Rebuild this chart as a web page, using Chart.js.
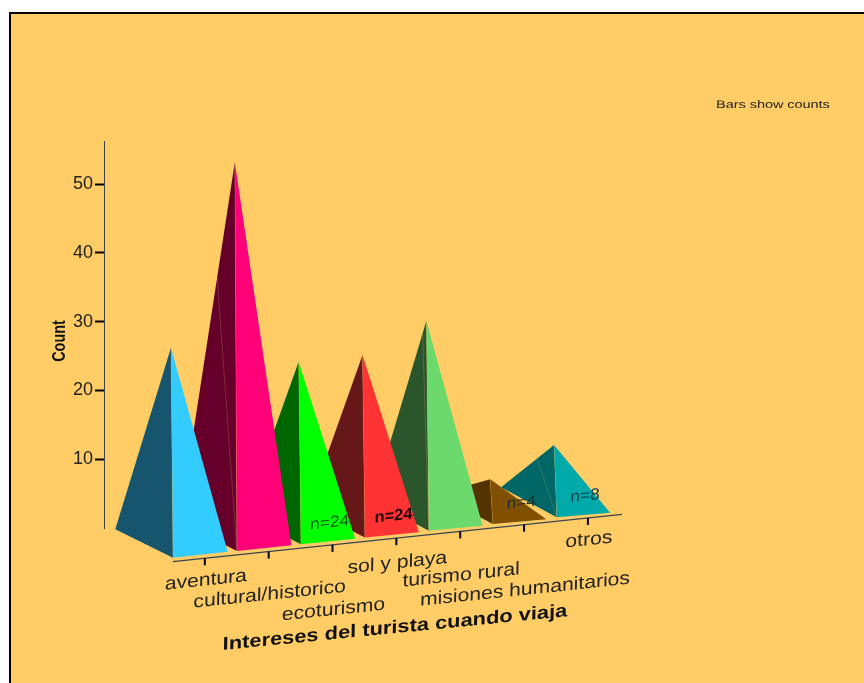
<!DOCTYPE html>
<html>
<head>
<meta charset="utf-8">
<title>Intereses del turista</title>
<script src="https://cdn.jsdelivr.net/npm/chart.js@4"></script>
<style>
  html, body { margin: 0; padding: 0; background: #fff; overflow: hidden; }
  canvas { display: block; }
</style>
</head>
<body>
<canvas id="chart" width="864" height="683"></canvas>
<script>
const categories = ['aventura', 'cultural/historico', 'ecoturismo', 'sol y playa', 'turismo rural', 'misiones humanitarios', 'otros'];
const counts = [28, 54, 24, 24, 28, 4, 8];
const countLabels = ['', '', 'n=24', 'n=24', '', 'n=4', 'n=8'];
const yTicks = [10, 20, 30, 40, 50];
const darkFaces = ['#17556f', '#66002b', '#006600', '#661717', '#2b552b', '#553300', '#006666'];
const lightFaces = ['#33ccff', '#ff0078', '#00ff00', '#ff3333', '#6cd96c', '#805000', '#00aaaa'];
const labelColors = ['#000', '#000', '#0b5a0b', '#200404', '#000', '#20302a', '#06404a'];
const foldLines = [0, 0.32, 0, 0, 0.07, 0, 0.32];

const INK = '#222222';
const SLANT = 6.73; // px the floor climbs per category
const labelDrop = [22, 43, 65, 25, 44, 65, 22]; // staggered rows under the floor axis

function textAt(ctx, str, x, y, font, color, sx, shear) {
    ctx.save();
    ctx.translate(x, y);
    ctx.transform(sx, shear * sx, -0.02, 1, 0, 0);
    ctx.font = font;
    ctx.fillStyle = color;
    ctx.textAlign = 'center';
    ctx.textBaseline = 'middle';
    ctx.fillText(str, 0, 0);
    ctx.restore();
}

function poly(ctx, pts, color) {
    ctx.beginPath();
    ctx.moveTo(pts[0][0], pts[0][1]);
    pts.slice(1).forEach(p => ctx.lineTo(p[0], p[1]));
    ctx.closePath();
    ctx.fillStyle = color;
    ctx.fill();
}

const backdrop = {
    id: 'backdrop',
    beforeDraw(chart) {
        const ctx = chart.ctx;
        ctx.save();
        ctx.fillStyle = '#ffffff';
        ctx.fillRect(0, 0, chart.width, chart.height);
        ctx.fillStyle = '#ffcc66';
        ctx.fillRect(10, 13, chart.width - 10, chart.height - 13);
        ctx.fillStyle = '#000000';
        ctx.fillRect(9, 12, chart.width - 9, 2);
        ctx.fillRect(9, 12, 2, chart.height - 12);
        ctx.restore();
    }
};

const pyramids = {
    id: 'pyramids',
    afterDatasetsDraw(chart) {
        const ctx = chart.ctx;
        const xs = chart.scales.x;
        const ys = chart.scales.y;
        const y0 = ys.getPixelForValue(0);

        ctx.save();
        // back to front, the right hand pyramids are furthest away
        for (let i = categories.length - 1; i >= 0; i--) {
            const k = i / 6;
            const ax = xs.getPixelForValue(i);
            const ay = ys.getPixelForValue(counts[i]) + 12.4 - SLANT * i;
            const front = [ax + 2 + 0.7 * k, y0 + 29.7 - SLANT * i];
            const right = [front[0] + 54.7 - 1.4 * k, front[1] - 6 + 1.4 * k];
            const left = [front[0] - 57.7 + 2 * k, front[1] - 28.4 - 1.6 * k];

            poly(ctx, [[ax, ay], left, front], darkFaces[i]);
            poly(ctx, [[ax, ay], front, right], lightFaces[i]);

            ctx.lineWidth = 1;
            ctx.strokeStyle = 'rgba(225,190,120,0.22)';
            ctx.beginPath();
            ctx.moveTo(ax, ay);
            ctx.lineTo(front[0], front[1]);
            if (foldLines[i]) {
                ctx.moveTo(ax + (left[0] - ax) * foldLines[i], ay + (left[1] - ay) * foldLines[i]);
                ctx.lineTo(front[0], front[1]);
            }
            ctx.stroke();
        }

        // slanted floor axis
        const floorY = u => 561.7 - SLANT * (u - 0.03);
        ctx.strokeStyle = '#3a4450';
        ctx.lineWidth = 1.3;
        ctx.beginPath();
        ctx.moveTo(xs.getPixelForValue(0.03), floorY(0.03));
        ctx.lineTo(xs.right, floorY(xs.max));
        ctx.stroke();

        ctx.strokeStyle = '#000000';
        ctx.lineWidth = 2;
        categories.forEach((name, i) => {
            const u = i + 0.53;
            const tx = xs.getPixelForValue(u);
            ctx.beginPath();
            ctx.moveTo(tx, floorY(u));
            ctx.lineTo(tx, floorY(u) + 7);
            ctx.stroke();
            textAt(ctx, name, tx + 1, floorY(u) + labelDrop[i], '18.5px "Liberation Sans"', INK, 1.14, -0.105);
        });

        categories.forEach((name, i) => {
            if (!countLabels[i]) return;
            const lx = xs.getPixelForValue(i) + 31;
            const ly = y0 - 1 + 12.4 - SLANT * i - 3;
            const weight = i === 3 ? 'bold ' : '';
            textAt(ctx, countLabels[i], lx, ly, weight + '16px "Liberation Sans"', labelColors[i], i === 3 ? 1.03 : 1.08, -0.105);
        });

        textAt(ctx, 'Intereses del turista cuando viaja', 395, 628, 'bold 18.5px "Liberation Sans"', '#111111', 1.18, -0.098);
        textAt(ctx, 'Bars show counts', 773, 105, '11px "Liberation Sans"', INK, 1.31, 0);

        ctx.translate(60, 341);
        ctx.rotate(-Math.PI / 2);
        ctx.scale(0.8, 1);
        ctx.font = 'bold 18px "Liberation Sans"';
        ctx.fillStyle = '#111111';
        ctx.textAlign = 'center';
        ctx.textBaseline = 'middle';
        ctx.fillText('Count', 0, 0);
        ctx.restore();
    }
};

new Chart(document.getElementById('chart').getContext('2d'), {
    type: 'scatter',
    data: {
        datasets: [{
            label: 'Count',
            data: categories.map((c, i) => ({ x: i, y: counts[i] })),
            pointRadius: 0,
            showLine: false
        }]
    },
    options: {
        responsive: false,
        animation: false,
        layout: { padding: { top: 141, bottom: 155, right: 242, left: 0 } },
        plugins: { legend: { display: false }, tooltip: { enabled: false } },
        scales: {
            x: {
                type: 'linear',
                display: false,
                min: -1.049,
                max: 7.064
            },
            y: {
                type: 'linear',
                min: 0,
                max: 56.25,
                afterBuildTicks(axis) {
                    axis.ticks = yTicks.map(v => ({ value: v }));
                },
                afterFit(axis) {
                    axis.width = 104;
                },
                border: { display: true, color: '#3a4450', width: 1 },
                grid: { drawOnChartArea: false, drawTicks: true, tickLength: 9, tickWidth: 2, tickColor: '#000000' },
                ticks: {
                    includeBounds: false,
                    padding: 2,
                    color: INK,
                    font: { family: '"Liberation Sans"', size: 18 }
                }
            }
        }
    },
    plugins: [backdrop, pyramids]
});
</script>
</body>
</html>
